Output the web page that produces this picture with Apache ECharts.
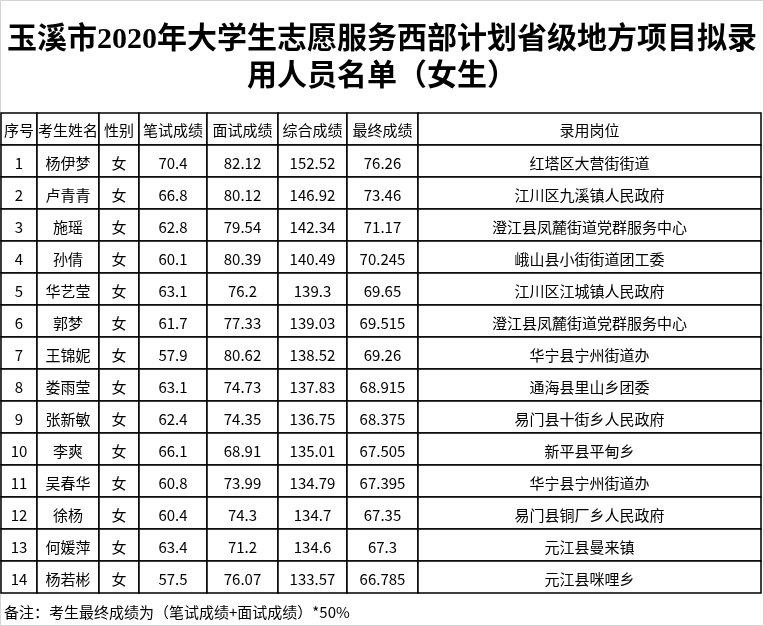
<!DOCTYPE html>
<html>
<head>
<meta charset="utf-8">
<style>
  html, body { margin: 0; padding: 0; background: #fff; }
  #result { width: 764px; height: 626px; }
</style>
<script src="https://cdn.jsdelivr.net/npm/echarts@6/dist/echarts.min.js"></script>
</head>
<body>
<div id="result"></div>
<script>
// 表头与数据
var headers = ['序号', '考生姓名', '性别', '笔试成绩', '面试成绩', '综合成绩', '最终成绩', '录用岗位'];
var ids = [1, 2, 3, 4, 5, 6, 7, 8, 9, 10, 11, 12, 13, 14];
var names = ['杨伊梦', '卢青青', '施瑶', '孙倩', '华艺莹', '郭梦', '王锦妮', '娄雨莹', '张新敏', '李爽', '吴春华', '徐杨', '何媛萍', '杨若彬'];
var genders = ['女', '女', '女', '女', '女', '女', '女', '女', '女', '女', '女', '女', '女', '女'];
var written = [70.4, 66.8, 62.8, 60.1, 63.1, 61.7, 57.9, 63.1, 62.4, 66.1, 60.8, 60.4, 63.4, 57.5];
var interview = [82.12, 80.12, 79.54, 80.39, 76.2, 77.33, 80.62, 74.73, 74.35, 68.91, 73.99, 74.3, 71.2, 76.07];
var total = [152.52, 146.92, 142.34, 140.49, 139.3, 139.03, 138.52, 137.83, 136.75, 135.01, 134.79, 134.7, 134.6, 133.57];
var finalScore = [76.26, 73.46, 71.17, 70.245, 69.65, 69.515, 69.26, 68.915, 68.375, 67.505, 67.395, 67.35, 67.3, 66.785];
var posts = ['红塔区大营街街道', '江川区九溪镇人民政府', '澄江县凤麓街道党群服务中心', '峨山县小街街道团工委',
    '江川区江城镇人民政府', '澄江县凤麓街道党群服务中心', '华宁县宁州街道办', '通海县里山乡团委',
    '易门县十街乡人民政府', '新平县平甸乡', '华宁县宁州街道办', '易门县铜厂乡人民政府', '元江县曼来镇', '元江县咪哩乡'];

// 列边界（像素坐标，布局用）
var colEdges = [1, 37, 99, 139, 207, 278, 347, 418, 761];

// 组装单元格
var columns = [ids, names, genders, written, interview, total, finalScore, posts];
var cells = [];
headers.forEach(function (h, c) {
    cells.push({ value: [c, 0], text: h });
});
ids.forEach(function (id, i) {
    columns.forEach(function (col, c) {
        cells.push({ value: [c, i + 1], text: String(col[i]) });
    });
});

var cellFont = '15px "Noto Sans CJK SC", sans-serif';

var option = {
    animation: false,
    title: [
        {
            text: '玉溪市2020年大学生志愿服务西部计划省级地方项目拟录\n用人员名单（女生）',
            left: 'center',
            top: 22,
            padding: 0,
            textStyle: {
                color: '#000',
                fontSize: 30,
                fontWeight: 'bold',
                fontFamily: '"Liberation Serif", "Noto Sans CJK SC", serif',
                lineHeight: 37
            }
        },
        {
            text: '备注：考生最终成绩为（笔试成绩+面试成绩）*50%',
            left: 4,
            top: 605,
            padding: 0,
            textStyle: {
                color: '#000',
                fontSize: 15,
                fontWeight: 'normal',
                fontFamily: '"Noto Sans CJK SC", sans-serif'
            }
        }
    ],
    grid: {
        left: 0,
        top: 113,
        width: 764,
        height: 480
    },
    xAxis: { type: 'value', min: 0, max: 764, show: false },
    yAxis: { type: 'value', min: 0, max: 15, inverse: true, show: false },
    graphic: [
        {
            type: 'rect',
            shape: { x: 0.5, y: 0.5, width: 763, height: 625 },
            style: { fill: null, stroke: '#d4d4d4', lineWidth: 1 },
            silent: true
        }
    ],
    series: [
        {
            type: 'custom',
            coordinateSystem: 'cartesian2d',
            data: cells,
            renderItem: function (params, api) {
                var c = api.value(0);
                var r = api.value(1);
                var p0 = api.coord([colEdges[c], r]);
                var p1 = api.coord([colEdges[c + 1], r + 1]);
                var cell = cells[params.dataIndex];
                return {
                    type: 'group',
                    children: [
                        {
                            type: 'rect',
                            shape: { x: p0[0], y: p0[1], width: p1[0] - p0[0], height: p1[1] - p0[1] },
                            style: { fill: '#fff', stroke: '#000', lineWidth: 1.5 }
                        },
                        {
                            type: 'text',
                            style: {
                                x: (p0[0] + p1[0]) / 2,
                                y: (p0[1] + p1[1]) / 2 + (r === 0 ? 1 : 2),
                                text: cell.text,
                                font: cellFont,
                                fill: '#000',
                                align: 'center',
                                verticalAlign: 'middle'
                            }
                        }
                    ]
                };
            }
        }
    ]
};

var myResult = echarts.init(document.getElementById('result'));
myResult.setOption(option);
</script>
</body>
</html>
